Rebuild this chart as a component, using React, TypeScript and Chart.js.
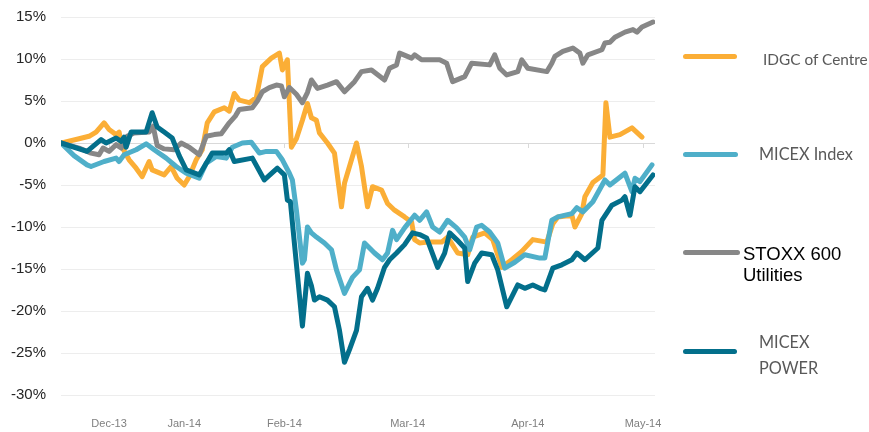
import React, { useEffect, useRef } from "react";
import { Chart, registerables } from "chart.js";

Chart.register(...registerables);

// Month labels and their positions (trading-day index)
const MONTH_LABELS = ["Dec-13", "Jan-14", "Feb-14", "Mar-14", "Apr-14", "May-14"];
const MONTH_POS = [9.6, 24.6, 44.6, 69.2, 93.2, 116.2];
const X_MAX = 118.6;
const Y_MIN = -30;
const Y_MAX = 15;

// IDGC of Centre
const IDGC_X = [0, 3.6, 5.6, 7, 8.6, 9.6, 11, 11.6, 12.2, 13.6, 15, 16.2, 17.6, 18.2, 20.6, 22, 23.2, 24.6, 25.6, 27, 28.2, 29.2, 30.6, 32.6, 33.6, 34.6, 35.6, 37.6, 39, 40.2, 42, 43.6, 44.2, 45.2, 46, 47, 48.2, 49.2, 50, 51, 51.6, 53.2, 54.6, 56, 56.6, 59, 60, 61.2, 62.2, 64, 65.2, 66.6, 68.6, 70, 70.6, 71.6, 73.2, 76, 77.2, 79.2, 81.2, 82.2, 84.6, 86.2, 88, 90, 92, 94.2, 97, 98.2, 99.2, 102, 102.6, 104, 104.6, 106.2, 108.2, 108.8, 109.6, 111.6, 114, 116];
const IDGC_Y = [0, 0.5, 0.8, 1.3, 2.4, 1.6, 1.0, 1.3, -0.5, -2.0, -3.0, -4.0, -2.2, -3.2, -3.8, -2.8, -4.2, -5.0, -4.0, -2.0, -0.8, 2.4, 3.7, 4.2, 3.8, 5.9, 5.1, 4.8, 5.4, 9.1, 10.1, 10.7, 8.7, 9.9, -0.5, 0.5, 2.7, 4.7, 3.0, 2.7, 1.2, 0, -1.2, -7.6, -4.8, 0, -2.8, -7.6, -5.2, -5.6, -7.2, -8.0, -8.8, -9.4, -11.5, -11.9, -11.8, -11.8, -11.2, -13.1, -13.3, -11.2, -10.7, -11.5, -14.8, -13.9, -12.9, -11.5, -11.8, -9.6, -8.8, -8.6, -10.0, -8.4, -6.4, -4.7, -3.8, 4.8, 0.7, 1.0, 1.8, 0.7];

// MICEX Index
const MICEX_X = [0, 2.6, 5.2, 6, 8.6, 11, 11.6, 12.6, 15, 17, 18.6, 21, 23, 25, 27.6, 29, 31, 33, 34.2, 36.2, 38, 39.6, 41, 43, 44.2, 45.6, 46.2, 47, 48.2, 48.6, 49.2, 50, 51, 52.6, 54, 55, 56.6, 58.2, 59.6, 60.6, 61.6, 62.6, 64.2, 65.2, 66.2, 67, 68.6, 70.6, 71.6, 73, 74.2, 75.6, 77.2, 79, 80.6, 81.6, 83, 84, 85.6, 87.2, 88.6, 90.6, 92.6, 95.6, 96.6, 98, 99.2, 102, 103, 104.2, 106.2, 108.6, 109.6, 112.6, 114, 114.6, 115.6, 118];
const MICEX_Y = [0, -1.5, -2.6, -2.8, -2.2, -1.8, -2.2, -1.4, -0.8, -0.1, -0.8, -1.8, -2.8, -3.6, -4.2, -2.4, -1.6, -1.8, -0.5, 0, 0.1, -1.2, -1.0, -1.0, -2.0, -3.6, -4.4, -8.0, -14.3, -13.9, -10.0, -10.7, -11.2, -11.9, -12.7, -15.1, -17.9, -16.0, -15.1, -11.9, -12.5, -13.1, -13.9, -13.1, -10.4, -11.5, -10.1, -8.6, -9.2, -8.2, -10.0, -10.6, -9.2, -10.1, -11.2, -12.7, -10.0, -9.8, -10.6, -11.9, -14.9, -14.2, -13.3, -13.7, -13.7, -9.2, -8.8, -8.4, -7.7, -8.2, -7.0, -4.4, -5.0, -3.6, -5.8, -4.2, -4.6, -2.6];

// STOXX 600 Utilities
const STOXX_X = [0, 3.6, 6, 7.6, 8.4, 9.6, 11, 12, 13.2, 14.6, 17.6, 18.4, 19.2, 20.6, 22.6, 24, 25.6, 27.6, 29, 30.6, 32, 33.6, 34.8, 35.6, 38.2, 39.2, 40.2, 41.6, 43, 44, 44.6, 45.6, 47, 48.2, 49.2, 50, 51.2, 53.2, 55, 56.6, 58.6, 60, 62, 64.6, 65.6, 67, 67.6, 70, 70.6, 72, 75.6, 77, 78.2, 80.6, 82, 85.6, 86.6, 87.6, 89, 91.2, 92, 93.2, 97, 98, 98.6, 100.2, 102.2, 103.6, 104.2, 105.2, 108, 108.6, 109.6, 110.6, 112.6, 114.2, 115, 116, 118.2];
const STOXX_Y = [0, -0.6, -1.2, -1.4, -0.6, -1.0, -0.2, -0.6, 0.8, 1.2, 1.3, 2.0, -0.3, -0.7, -0.8, 0, -0.5, -1.4, 0.8, 1.0, 1.1, 2.4, 3.2, 4.0, 4.2, 5.0, 6.1, 6.6, 6.9, 6.8, 5.5, 6.6, 5.8, 4.8, 6.0, 7.5, 6.5, 6.9, 7.3, 6.1, 7.3, 8.5, 8.7, 7.5, 8.9, 9.3, 10.7, 10.1, 10.5, 9.9, 9.9, 9.5, 7.3, 7.9, 9.5, 9.3, 10.5, 8.9, 8.1, 8.5, 9.9, 8.9, 8.5, 9.5, 10.3, 10.9, 11.3, 10.7, 9.5, 10.5, 11.1, 11.9, 12.0, 12.6, 13.2, 13.5, 13.2, 13.8, 14.4];

// MICEX POWER
const POWER_X = [0, 5.2, 8, 9, 11, 12, 12.6, 13, 14, 17, 18.2, 19.2, 20.6, 22.2, 23.6, 25, 27.6, 29, 30.2, 33, 33.6, 34.6, 38.2, 40.6, 43.2, 44.6, 45.2, 45.8, 48.2, 49.2, 50, 50.6, 51.6, 53.2, 54.6, 55.6, 56.6, 57.6, 59, 60, 61.2, 62.2, 63.2, 64.6, 65.6, 67, 68.6, 70.2, 71.6, 73, 75.2, 76.6, 77.6, 79, 80.6, 81.2, 82.6, 84, 86, 87.2, 89, 91.2, 92.6, 94.2, 95.6, 96.6, 98.2, 100, 102, 103, 104.6, 107.2, 108, 110, 112, 112.6, 113.6, 114.6, 115.6, 118.2];
const POWER_Y = [0, -1.0, 0.4, 0, 0.6, 0.2, 0.7, -0.5, 1.3, 1.3, 3.6, 1.9, 1.3, 0.6, -1.5, -3.2, -3.8, -2.4, -1.2, -1.2, -0.8, -2.2, -1.8, -4.4, -3.0, -3.8, -6.8, -7.0, -21.8, -15.5, -17.0, -18.7, -18.3, -18.7, -19.5, -22.3, -26.1, -24.6, -22.3, -18.3, -17.3, -18.7, -17.3, -14.8, -13.9, -13.1, -12.1, -10.7, -10.9, -11.3, -14.8, -13.1, -10.7, -11.5, -12.5, -16.5, -14.3, -13.1, -13.3, -15.1, -19.5, -16.9, -17.3, -16.9, -17.3, -17.5, -14.9, -14.5, -13.9, -13.1, -13.9, -12.5, -9.2, -7.4, -6.8, -6.4, -8.6, -5.2, -5.8, -3.8];

const SERIES = [
  { label: "IDGC of Centre", xs: IDGC_X, ys: IDGC_Y, color: "#FBAE36", order: 4 },
  { label: "MICEX Index", xs: MICEX_X, ys: MICEX_Y, color: "#4FAFC9", order: 3 },
  { label: "STOXX 600 Utilities", xs: STOXX_X, ys: STOXX_Y, color: "#878787", order: 2 },
  { label: "MICEX POWER", xs: POWER_X, ys: POWER_Y, color: "#036F8B", order: 1 },
];

const zeroTicks = {
  id: "zeroTicks",
  beforeDatasetsDraw(chart: any) {
    const { ctx, scales } = chart;
    const xs = scales.x;
    const y0 = scales.y.getPixelForValue(0);
    ctx.save();
    ctx.strokeStyle = "#d9d9d9";
    ctx.lineWidth = 1;
    MONTH_POS.forEach((p) => {
      const px = Math.round(xs.getPixelForValue(p)) + 0.5;
      ctx.beginPath();
      ctx.moveTo(px, y0);
      ctx.lineTo(px, y0 + 5);
      ctx.stroke();
    });
    ctx.restore();
  },
};

export default function App() {
  const ref = useRef<HTMLCanvasElement | null>(null);

  useEffect(() => {
    if (!ref.current) return;
    const chart = new Chart(ref.current, {
      type: "line",
      data: {
        datasets: SERIES.map((s) => ({
          label: s.label,
          data: s.xs.map((x, i) => ({ x, y: s.ys[i] })),
          borderColor: s.color,
          backgroundColor: s.color,
          borderWidth: 5,
          pointRadius: 0,
          tension: 0,
          borderJoinStyle: "round" as const,
          borderCapStyle: "round" as const,
          order: s.order,
          fill: false,
        })),
      },
      options: {
        animation: false,
        responsive: false,
        devicePixelRatio: 1,
        layout: { padding: { left: 10, right: 214, top: 17, bottom: 2 } },
        plugins: { legend: { display: false }, tooltip: { enabled: false } },
        scales: {
          x: {
            type: "linear",
            min: 0,
            max: X_MAX,
            grid: { display: false, drawTicks: false },
            border: { display: false },
            afterBuildTicks: (axis: any) => {
              axis.ticks = MONTH_POS.map((v) => ({ value: v }));
            },
            afterFit: (axis: any) => {
              axis.height = 35;
              axis.paddingLeft = 0;
              axis.paddingRight = 0;
            },
            ticks: {
              autoSkip: false,
              maxRotation: 0,
              padding: 22,
              color: "#808080",
              font: { family: "'Liberation Sans', Arial, sans-serif", size: 11 },
              callback: (v: any) => {
                const i = MONTH_POS.indexOf(Number(v));
                return i >= 0 ? MONTH_LABELS[i] : "";
              },
            },
          },
          y: {
            min: Y_MIN,
            max: Y_MAX,
            afterFit: (axis: any) => {
              axis.width = 51;
              axis.paddingTop = 0;
              axis.paddingBottom = 0;
            },
            grid: {
              color: (c: any) => (c.tick && c.tick.value === 0 ? "#d9d9d9" : "#ededed"),
              drawTicks: false,
              lineWidth: 1,
            },
            border: { display: false },
            ticks: {
              stepSize: 5,
              padding: 15,
              color: "#262626",
              font: { family: "'Liberation Sans', Arial, sans-serif", size: 15 },
              callback: (v: any) => `${v}%`,
            },
          },
        },
      },
      plugins: [zeroTicks],
    });
    return () => chart.destroy();
  }, []);

  const calibriLike = "Lato, 'Open Sans', sans-serif";
  const swatch = (top: number, width: number, color: string) => (
    <div
      style={{
        position: "absolute",
        left: 683,
        top,
        width,
        height: 5,
        borderRadius: 3,
        background: color,
      }}
    />
  );

  const legendText = (left: number, top: number, lh: number, size = 16.3) => ({
    position: "absolute" as const,
    left,
    top,
    fontFamily: calibriLike,
    fontSize: size,
    color: "#595959",
    lineHeight: `${lh}px`,
    whiteSpace: "nowrap" as const,
  });

  return (
    <div style={{ position: "absolute", left: 0, top: 0, width: 869, height: 432, background: "#fff", overflow: "hidden" }}>
      <canvas ref={ref} width={869} height={432} style={{ position: "absolute", left: 0, top: 0, width: 869, height: 432 }} />
      {swatch(54, 54, "#FBAE36")}
      {swatch(152, 55, "#4FAFC9")}
      {swatch(250, 57, "#878787")}
      {swatch(349, 54, "#036F8B")}
      <div style={legendText(763, 47, 24, 15.4)}>IDGC of Centre</div>
      <div style={legendText(759, 142, 24)}>MICEX Index</div>
      <div style={{ position: "absolute", left: 743, top: 243, fontFamily: "'Liberation Sans', Arial, sans-serif", fontSize: 18.5, color: "#000", lineHeight: "21px", whiteSpace: "nowrap" }}>
        STOXX 600
        <br />
        Utilities
      </div>
      <div style={legendText(759, 329, 26)}>
        MICEX
        <br />
        POWER
      </div>
    </div>
  );
}
